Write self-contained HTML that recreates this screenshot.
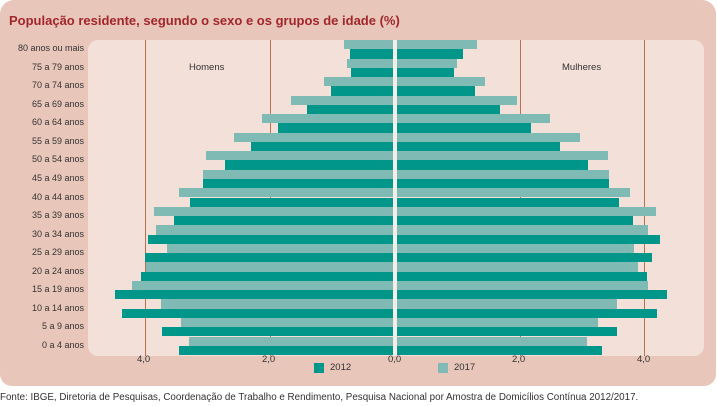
<!DOCTYPE html>
<html><head><meta charset="utf-8"><style>
body{margin:0;width:717px;height:406px;background:#fff;position:relative;overflow:hidden;font-family:"Liberation Sans",sans-serif}
div{position:absolute}
#outer{left:0;top:0;width:716px;height:386px;background:#e8c6ba;border-radius:14px 14px 12px 12px}
#inner{left:88px;top:40px;width:616px;height:316px;background:#f3e0d9;border-radius:10px}
.t{position:absolute;white-space:nowrap}
.lab{font-size:9px;color:#333;text-align:right;width:84px;left:0}
.g{width:1px;background:#b87050;top:40px;height:316px}
.ax{font-size:9.5px;color:#333;top:354px}
</style></head><body>
<div id="outer"></div>
<div class="t" style="left:9px;top:13px;font-size:13px;font-weight:bold;color:#a3262c">População residente, segundo o sexo e os grupos de idade (%)</div>
<div id="inner"></div>
<div class="g" style="left:145px"></div>
<div class="g" style="left:270px"></div>
<div class="g" style="left:520px"></div>
<div class="g" style="left:644px"></div>
<div class="t" style="left:189px;top:62px;font-size:9.5px;color:#333">Homens</div>
<div class="t" style="left:562px;top:62px;font-size:9.5px;color:#333">Mulheres</div>
<div id="bars"></div>
<div style="left:393px;top:40px;width:4px;height:316px;background:#f6ece8"></div>
<div class="t ax" style="left:137px">4,0</div>
<div class="t ax" style="left:262px">2,0</div>
<div class="t ax" style="left:388px">0,0</div>
<div class="t ax" style="left:512px">2,0</div>
<div class="t ax" style="left:637px">4,0</div>
<div style="left:314px;top:363px;width:10px;height:10px;background:#00968a"></div>
<div class="t" style="left:330px;top:362px;font-size:9.5px;color:#333">2012</div>
<div style="left:438px;top:363px;width:10px;height:10px;background:#7fbab5"></div>
<div class="t" style="left:454px;top:362px;font-size:9.5px;color:#333">2017</div>
<div class="t" style="left:0;top:392px;font-size:9.8px;color:#333">Fonte: IBGE, Diretoria de Pesquisas, Coordenação de Trabalho e Rendimento, Pesquisa Nacional por Amostra de Domicílios Contínua 2012/2017.</div>
<script>
var labels=["80 anos ou mais","75 a 79 anos","70 a 74 anos","65 a 69 anos","60 a 64 anos","55 a 59 anos","50 a 54 anos","45 a 49 anos","40 a 44 anos","35 a 39 anos","30 a 34 anos","25 a 29 anos","20 a 24 anos","15 a 19 anos","10 a 14 anos","5 a 9 anos","0 a 4 anos"];
var d=[[344,350,477,463],[347,351,457,454],[324,331,485,475],[291,307,517,500],[262,278,550,531],[234,251,580,560],[206,225,608,588],[203,203,609,609],[179,190,630,619],[154,174,656,633],[156,148,648,660],[167,145,634,652],[146,141,638,647],[132,115,648,667],[161,122,617,657],[181,162,598,617],[189,179,587,602]];
var h='',y0=40,p=(355-40)/17,bh=p/2;
for(var i=0;i<17;i++){
 var y=y0+i*p,r=d[i];
 h+='<div style="left:'+r[0]+'px;top:'+y.toFixed(1)+'px;width:'+(393-r[0])+'px;height:'+bh.toFixed(1)+'px;background:#7fbab5"></div>';
 h+='<div style="left:'+r[1]+'px;top:'+(y+bh).toFixed(1)+'px;width:'+(393-r[1])+'px;height:'+bh.toFixed(1)+'px;background:#00968a"></div>';
 h+='<div style="left:397px;top:'+y.toFixed(1)+'px;width:'+(r[2]-397)+'px;height:'+bh.toFixed(1)+'px;background:#7fbab5"></div>';
 h+='<div style="left:397px;top:'+(y+bh).toFixed(1)+'px;width:'+(r[3]-397)+'px;height:'+bh.toFixed(1)+'px;background:#00968a"></div>';
 h+='<div class="t lab" style="top:'+(y+bh-6).toFixed(1)+'px">'+labels[i]+'</div>';
}
document.getElementById('bars').outerHTML=h;
</script>
</body></html>
